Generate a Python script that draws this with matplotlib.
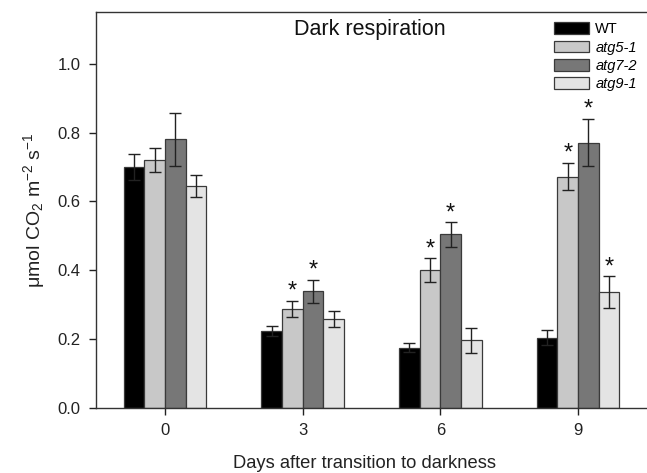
import matplotlib
matplotlib.use("Agg")
import matplotlib.pyplot as plt
import numpy as np

plt.rcParams['font.family'] = ['Liberation Sans', 'DejaVu Sans']
plt.rcParams['mathtext.default'] = 'regular'

days = [0, 3, 6, 9]
day_labels = ['0', '3', '6', '9']
genotypes = ['WT', 'atg5-1', 'atg7-2', 'atg9-1']
wt = [0.701, 0.224, 0.175, 0.204]
wt_err = [0.038, 0.014, 0.013, 0.022]
atg5 = [0.720, 0.288, 0.401, 0.672]
atg5_err = [0.035, 0.023, 0.034, 0.040]
atg7 = [0.780, 0.339, 0.504, 0.771]
atg7_err = [0.077, 0.034, 0.036, 0.069]
atg9 = [0.646, 0.259, 0.197, 0.336]
atg9_err = [0.032, 0.023, 0.036, 0.047]
signif = {'WT': [False, False, False, False],
          'atg5-1': [False, True, True, True],
          'atg7-2': [False, True, True, True],
          'atg9-1': [False, False, False, True]}

values = [wt, atg5, atg7, atg9]
errors = [wt_err, atg5_err, atg7_err, atg9_err]
colors = ['#000000', '#c8c8c8', '#777777', '#e4e4e4']

fig = plt.figure(figsize=(6.47, 4.73), dpi=100)
ax = fig.add_axes([0.1484, 0.1374, 0.8516, 0.8372])

bw = 0.45
x = np.array(days, dtype=float)
for i, (g, v, e, c) in enumerate(zip(genotypes, values, errors, colors)):
    pos = x + (i - 1.5) * bw
    ax.bar(pos, v, width=bw, color=c, edgecolor='#3a3a3a', linewidth=0.9,
           label=g, zorder=2)
    ax.errorbar(pos, v, yerr=e, fmt='none', ecolor='#222222', elinewidth=1.0,
                capsize=4.5, capthick=1.0, zorder=3)
    for p, val, err, s in zip(pos, v, e, signif[g]):
        if s:
            ax.annotate('*', (p, val + err), xytext=(0, -1.5), textcoords='offset points',
                        ha='center', va='bottom', fontsize=17, color='#111111')

ax.set_xlim(-1.5, 10.5)
ax.set_ylim(0, 1.15)
ax.set_xticks(days)
ax.set_xticklabels(day_labels)
ax.set_yticks(np.arange(0, 1.01, 0.2))
ax.set_yticklabels([f'{t:.1f}' for t in np.arange(0, 1.01, 0.2)])
ax.tick_params(axis='both', labelsize=12, colors='#222222', length=5, width=1,
               direction='out', pad=6)
ax.spines['right'].set_visible(False)
for s in ['left', 'top', 'bottom']:
    ax.spines[s].set_color('#333333')
    ax.spines[s].set_linewidth(1.0)

ax.set_xlabel('Days after transition to darkness', fontsize=13.2, color='#222222')
ax.xaxis.set_label_coords(0.487, -0.118)
ax.set_ylabel(r'$\mu$mol CO$_2$ m$^{-2}$ s$^{-1}$', fontsize=14, color='#222222', labelpad=8)
ax.text(0.497, 0.955, 'Dark respiration', transform=ax.transAxes, ha='center', va='center',
        fontsize=15.5, color='#111111')

leg = ax.legend(loc='upper right', bbox_to_anchor=(1.0, 1.0), frameon=False, fontsize=10.5,
                handlelength=2.4, handleheight=0.85, labelspacing=0.3, handletextpad=0.4,
                borderaxespad=0.3)
for t in leg.get_texts()[1:]:
    t.set_style('italic')

fig.savefig('out.png', dpi=100)
